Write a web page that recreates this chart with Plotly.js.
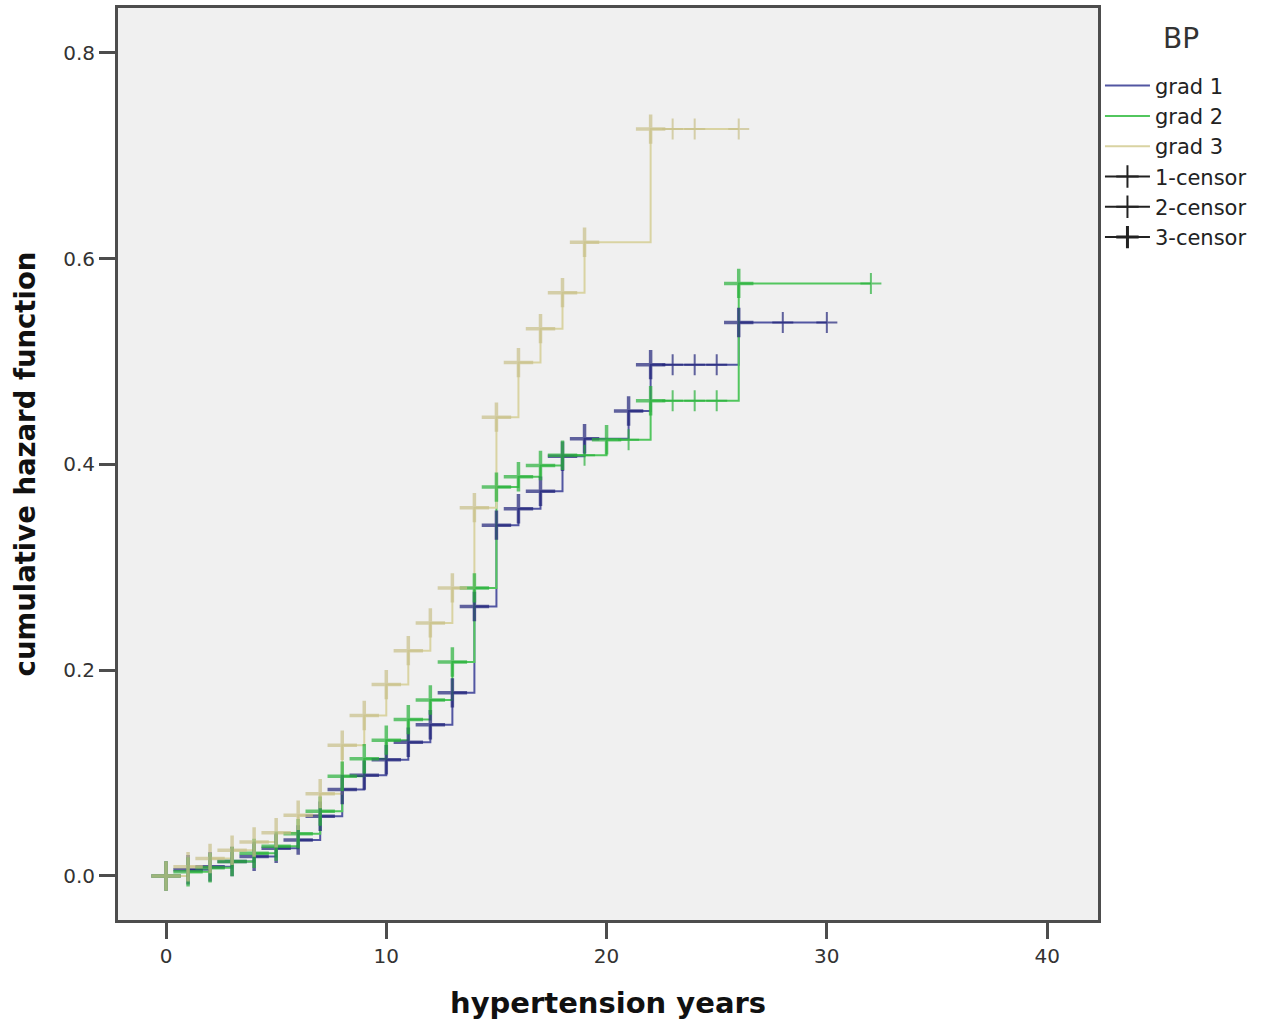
<!DOCTYPE html>
<html><head><meta charset="utf-8">
<script src="https://cdn.plot.ly/plotly-3.0.1.min.js"></script>
<style>body{margin:0;background:#fff}#chart{width:1269px;height:1028px}</style>
</head><body><div id="chart"></div>
<script>
const groups = ['grad 1', 'grad 2', 'grad 3'];
const censorLabels = ['1-censor', '2-censor', '3-censor'];
const legendTitle = 'BP';
const xTitle = 'hypertension years';
const yTitle = 'cumulative hazard function';
const xTicks = [0, 10, 20, 30, 40];
const yTicks = [0.0, 0.2, 0.4, 0.6, 0.8];
const yTickText = ['0.0', '0.2', '0.4', '0.6', '0.8'];

const t1 = [0,1,2,3,4,5,6,7,8,9,10,11,12,13,14,15,16,17,18,19,21,22,23,24,25,26,28,30];
const h1 = [0,0.006,0.009,0.014,0.019,0.027,0.035,0.058,0.084,0.098,0.113,0.130,0.147,0.178,0.262,0.341,0.357,0.374,0.408,0.425,0.452,0.497,0.497,0.497,0.497,0.538,0.538,0.538];
const t2 = [0,1,2,3,4,5,6,7,8,9,10,11,12,13,14,15,16,17,18,19,20,21,22,23,24,25,26,32];
const h2 = [0,0.004,0.008,0.014,0.022,0.029,0.041,0.063,0.097,0.114,0.132,0.152,0.171,0.208,0.280,0.378,0.388,0.399,0.409,0.409,0.424,0.424,0.462,0.462,0.462,0.462,0.576,0.576];
const t3 = [0,1,2,3,4,5,6,7,8,9,10,11,12,13,14,15,16,17,18,19,22,23,24,26];
const h3 = [0,0.009,0.017,0.025,0.033,0.042,0.059,0.080,0.127,0.156,0.186,0.219,0.246,0.280,0.358,0.446,0.499,0.532,0.567,0.616,0.726,0.726,0.726,0.726];

const times = [t1, t2, t3];
const hazards = [h1, h2, h3];
const lineColors = ['#5256a2', '#52c65e', '#d9d3a2'];
const markColors = ['#22257a', '#2ab23c', '#c9c18a'];

const traces = [];
for (let g = 0; g < 3; g++) {
  traces.push({
    x: times[g], y: hazards[g], name: groups[g], type: 'scatter', mode: 'lines',
    line: {shape: 'hv', color: lineColors[g], width: 2},
    hoverinfo: 'skip'
  });
}
for (let g = 0; g < 3; g++) {
  traces.push({
    x: [null], y: [null], name: censorLabels[g], type: 'scatter', mode: 'lines+markers',
    line: {color: '#222', width: 2},
    marker: {symbol: 'cross-thin', size: 16, line: {color: '#222', width: g === 2 ? 3 : 2}}
  });
}
for (let g = 0; g < 3; g++) {
  const h = hazards[g];
  const bold = h.map((v, i) => i === 0 || v > h[i - 1]);
  traces.push({
    x: times[g], y: h, type: 'scatter', mode: 'markers', showlegend: false,
    marker: {
      symbol: 'cross-thin', color: markColors[g],
      size: bold.map(b => b ? 21 : 15),
      line: {color: markColors[g], width: bold.map(b => b ? 3.5 : 2)}
    },
    hoverinfo: 'skip'
  });
}

const axisCommon = {
  showline: true, mirror: true, linecolor: '#4d4d4d', linewidth: 3,
  ticks: 'outside', ticklen: 16, tickwidth: 3, tickcolor: '#4d4d4d',
  showgrid: false, zeroline: false,
  tickfont: {family: 'DejaVu Sans', size: 20, color: '#333'}
};

const layout = {
  width: 1269, height: 1028,
  paper_bgcolor: '#ffffff', plot_bgcolor: '#f0f0f0',
  margin: {l: 118, r: 171, t: 8, b: 108},
  showlegend: true,
  xaxis: Object.assign({}, axisCommon, {
    range: [-2.18, 42.31], tickvals: xTicks, ticktext: xTicks.map(String),
    title: {text: xTitle, standoff: 26, font: {family: 'DejaVu Sans', size: 29, color: '#111', weight: 'bold'}}
  }),
  yaxis: Object.assign({}, axisCommon, {
    range: [-0.0428, 0.8437], tickvals: yTicks, ticktext: yTickText,
    title: {text: yTitle, standoff: 20, font: {family: 'DejaVu Sans', size: 27.5, color: '#111', weight: 'bold'}}
  }),
  legend: {
    x: 1.002, xanchor: 'left', y: 0.937, yanchor: 'top',
    font: {family: 'DejaVu Sans', size: 21, color: '#222'},
    bgcolor: 'rgba(0,0,0,0)', traceorder: 'normal', itemwidth: 45, tracegroupgap: 0
  },
  annotations: [{
    text: legendTitle, xref: 'paper', yref: 'paper', x: 1.085, y: 0.967, xanchor: 'center', yanchor: 'middle',
    showarrow: false, font: {family: 'DejaVu Sans', size: 28, color: '#333'}
  }]
};

Plotly.newPlot('chart', traces, layout, {displayModeBar: false, staticPlot: true});
</script>
</body></html>
